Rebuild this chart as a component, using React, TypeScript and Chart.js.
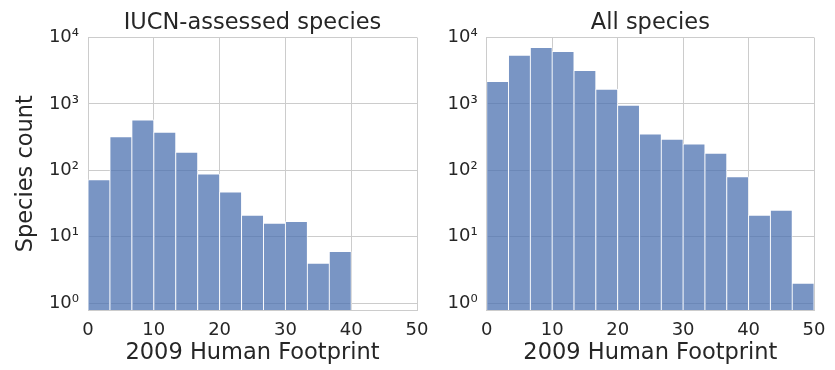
import React, { useEffect, useRef } from "react";
import { Chart, registerables } from "chart.js";

Chart.register(...registerables);

// ---- data ----
const binEdges = [0, 3.333, 6.667, 10, 13.333, 16.667, 20, 23.333, 26.667, 30, 33.333, 36.667, 40, 43.333, 46.667, 50];
const iucnCounts = [72, 321, 574, 374, 187, 88, 47, 21, 16, 17, 4, 6];
const allCounts = [2170, 5420, 7060, 6150, 3180, 1667, 956, 353, 294, 250, 181, 80, 21, 25, 2];
const yTickValues = [1, 10, 100, 1000, 10000];
const yTickLabels = ["10⁰", "10¹", "10²", "10³", "10⁴"];
const xTickValues = [0, 10, 20, 30, 40, 50];
const panelTitles = ["IUCN-assessed species", "All species"];
const xAxisTitle = "2009 Human Footprint";
const yAxisTitle = "Species count";

const FONT = "'DejaVu Sans', sans-serif";
const TEXT = "#262626";
const GRID = "#cccccc";
const BAR = "rgba(76,114,176,0.75)";

type PanelProps = {
  counts: number[];
  title: string;
  showYTitle: boolean;
  left: number;
  width: number;
  yAxisWidth: number;
  rightPad: number;
};

function Panel({ counts, title, showYTitle, left, width, yAxisWidth, rightPad }: PanelProps) {
  const ref = useRef<HTMLCanvasElement | null>(null);
  useEffect(() => {
    if (!ref.current) return;
    const data = counts.map((c, i) => ({ x: (binEdges[i] + binEdges[i + 1]) / 2, y: c }));
    const chart = new Chart(ref.current, {
      type: "bar",
      data: {
        datasets: [
          {
            data,
            backgroundColor: BAR,
            borderColor: "#ffffff",
            borderWidth: 0.8,
            barPercentage: 1,
            categoryPercentage: 1,
          },
        ],
      },
      options: {
        responsive: false,
        animation: false,
        layout: { padding: { left: 0, right: rightPad, top: 0, bottom: 0 } },
        plugins: {
          legend: { display: false },
          tooltip: { enabled: false },
          title: {
            display: true,
            text: title,
            fullSize: false,
            color: TEXT,
            font: { family: FONT, size: 22.5, weight: "normal", lineHeight: 1.2 },
            padding: { top: 10, bottom: 0.5 },
          },
        },
        scales: {
          x: {
            type: "linear",
            min: 0,
            max: 50,
            offset: false,
            grid: { color: GRID, lineWidth: 1, drawTicks: false, offset: false },
            border: { display: true, color: GRID, width: 1 },
            afterBuildTicks: (scale: any) => {
              scale.ticks = xTickValues.map((v) => ({ value: v }));
            },
            ticks: {
              color: TEXT,
              font: { family: FONT, size: 18 },
              padding: 9.5,
              maxRotation: 0,
              callback: (v: any) => String(v),
            },
            title: {
              display: true,
              text: xAxisTitle,
              color: TEXT,
              font: { family: FONT, size: 22.5, lineHeight: 1.2 },
              padding: { top: 0, bottom: 3 },
            },
            afterFit: (scale: any) => {
              scale.height = 60;
            },
          },
          y: {
            type: "logarithmic",
            min: 0.79,
            max: 10000,
            grid: { color: GRID, lineWidth: 1, drawTicks: false },
            border: { display: true, color: GRID, width: 1 },
            afterBuildTicks: (scale: any) => {
              scale.ticks = yTickValues.map((v) => ({ value: v }));
            },
            ticks: {
              color: TEXT,
              font: { family: FONT, size: 18 },
              padding: 9,
              callback: (v: any) => {
                const i = yTickValues.indexOf(Number(v));
                return i >= 0 ? yTickLabels[i] : "";
              },
            },
            title: {
              display: showYTitle,
              text: yAxisTitle,
              color: TEXT,
              font: { family: FONT, size: 22.5, lineHeight: 1.2 },
              padding: { top: 12.5, bottom: 0 },
            },
            afterFit: (scale: any) => {
              scale.width = yAxisWidth;
            },
          },
        },
      } as any,
    });
    return () => chart.destroy();
  }, [counts, title, showYTitle, yAxisWidth, rightPad]);

  return (
    <canvas
      ref={ref}
      width={width}
      height={370}
      style={{ position: "absolute", left, top: 0, width, height: 370, display: "block" }}
    />
  );
}

export default function App() {
  return (
    <div style={{ position: "fixed", left: 0, top: 0, width: 835, height: 370, background: "#ffffff" }}>
      <Panel counts={iucnCounts} title={panelTitles[0]} showYTitle={true} left={0} width={438} yAxisWidth={88} rightPad={18} />
      <Panel counts={allCounts} title={panelTitles[1]} showYTitle={false} left={438} width={397} yAxisWidth={48.7} rightPad={16} />
    </div>
  );
}
